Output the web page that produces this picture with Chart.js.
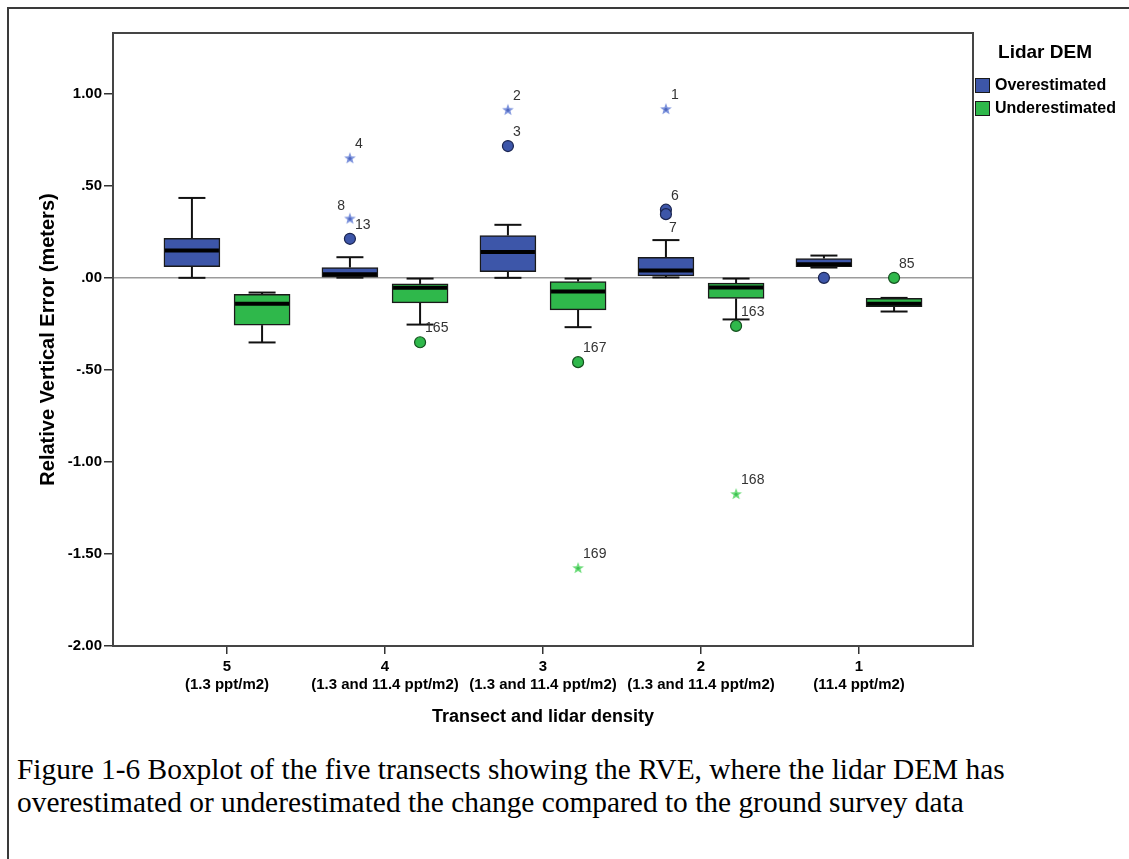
<!DOCTYPE html>
<html>
<head>
<meta charset="utf-8">
<title>Relative Vertical Error by transect</title>
<script src="https://cdn.jsdelivr.net/npm/chart.js@4.4.1/dist/chart.umd.min.js"></script>
<style>
  html, body { margin: 0; padding: 0; background: #fff; }
  body { width: 1129px; height: 859px; position: relative; overflow: hidden; }
  #frame { position: absolute; left: 7px; top: 7px; width: 1140px; height: 870px;
           border-left: 2px solid #3a3a3a; border-top: 2px solid #3a3a3a; }
  #wrap { position: absolute; left: 0; top: 0; width: 1129px; height: 730px; }
  #caption { position: absolute; left: 17px; top: 753px; margin: 0;
             font-family: "Liberation Serif", "Times New Roman", serif;
             font-size: 29.4px; line-height: 33px; color: #000; white-space: nowrap; }
</style>
</head>
<body>
<div id="frame"></div>
<div id="wrap"><canvas id="chart" width="1129" height="730"></canvas></div>
<p id="caption">Figure 1-6 Boxplot of the five transects showing the RVE, where the lidar DEM has<br>overestimated or underestimated the change compared to the ground survey data</p>

<script>
// Transects (x categories) and their lidar densities
const transects = ['5', '4', '3', '2', '1'];
const densities = ['(1.3 ppt/m2)', '(1.3 and 11.4 ppt/m2)', '(1.3 and 11.4 ppt/m2)',
                   '(1.3 and 11.4 ppt/m2)', '(11.4 ppt/m2)'];

// Y axis ticks
const yTickValues = [-2, -1.5, -1, -0.5, 0, 0.5, 1];
const yTickLabels = ['-2.00', '-1.50', '-1.00', '-.50', '.00', '.50', '1.00'];

// Overestimated: five-number summaries per transect
const overLow    = [0.000, 0.001, 0.000, 0.002, 0.056];
const overQ1     = [0.060, 0.004, 0.034, 0.011, 0.060];
const overMedian = [0.149, 0.020, 0.141, 0.040, 0.074];
const overQ3     = [0.214, 0.056, 0.230, 0.112, 0.105];
const overHigh   = [0.434, 0.112, 0.288, 0.205, 0.121];

// Underestimated: five-number summaries per transect
const underLow    = [-0.351, -0.254, -0.268, -0.226, -0.183];
const underQ1     = [-0.257, -0.136, -0.174, -0.112, -0.156];
const underMedian = [-0.141, -0.054, -0.074, -0.053, -0.141];
const underQ3     = [-0.089, -0.033, -0.020, -0.029, -0.112];
const underHigh   = [-0.080, -0.004, -0.004, -0.004, -0.109];

// Outliers ('o' = outlier, '*' = extreme), transect index, value and case label
const overOutGroup = [1, 1, 1, 2, 2, 3, 3, 3, 4];
const overOutValue = [0.212, 0.322, 0.650, 0.716, 0.913, 0.370, 0.346, 0.917, 0.000];
const overOutKind  = ['o', '*', '*', 'o', '*', 'o', 'o', '*', 'o'];
const overOutLabel = ['13', '8', '4', '3', '2', '6', '7', '1', ''];

const underOutGroup = [1, 2, 2, 3, 3, 4];
const underOutValue = [-0.350, -0.458, -1.576, -0.261, -1.174, 0.000];
const underOutKind  = ['o', 'o', '*', 'o', '*', 'o'];
const underOutLabel = ['165', '167', '169', '163', '168', '85'];

// Label placement exceptions (default is up-right of the point)
const labelAnchor = { '8': 'nw', '7': 'se' };

const BLUE = '#3d56a9', GREEN = '#2fb84b';
const SHIFT = 0.222;           // offset of each box from the transect centre, in axis units
const SANS = '"Liberation Sans", Arial, sans-serif';

function makeStar(fill, core) {
  const c = document.createElement('canvas');
  c.width = 14; c.height = 14;
  const g = c.getContext('2d');
  g.beginPath();
  for (let k = 0; k < 10; k++) {
    const r = k % 2 === 0 ? 6.2 : 2.6;
    const a = -Math.PI / 2 + k * Math.PI / 5;
    const px = 7 + r * Math.cos(a), py = 7.3 + r * Math.sin(a);
    k === 0 ? g.moveTo(px, py) : g.lineTo(px, py);
  }
  g.closePath();
  g.fillStyle = fill; g.fill();
  g.beginPath(); g.arc(7, 7.3, 1.6, 0, Math.PI * 2); g.fillStyle = core; g.fill();
  return c;
}
const starBlue = makeStar('#7d93dc', '#4f67bf');
const starGreen = makeStar('#6fdc7c', '#3fc252');

const series = [
  { name: 'Overestimated', color: BLUE, edge: '#1b2550', star: starBlue, shift: -SHIFT,
    low: overLow, q1: overQ1, med: overMedian, q3: overQ3, high: overHigh,
    outG: overOutGroup, outV: overOutValue, outK: overOutKind, outL: overOutLabel },
  { name: 'Underestimated', color: GREEN, edge: '#15501f', star: starGreen, shift: SHIFT,
    low: underLow, q1: underQ1, med: underMedian, q3: underQ3, high: underHigh,
    outG: underOutGroup, outV: underOutValue, outK: underOutKind, outL: underOutLabel }
];

const boxDatasets = series.map(s => ({
  type: 'bar',
  label: s.name,
  data: transects.map((t, i) => ({ x: i + s.shift, y: [s.q1[i], s.q3[i]] })),
  backgroundColor: s.color,
  borderColor: '#1a1a1a',
  borderWidth: 1.5,
  borderSkipped: false,
  barThickness: 56,
  grouped: false,
  order: 2
}));

const outlierDatasets = series.map(s => ({
  type: 'scatter',
  label: s.name + ' outliers',
  data: s.outG.map((g, k) => ({ x: g + s.shift, y: s.outV[k] })),
  pointStyle: ctx => (s.outK[ctx.dataIndex] === '*' ? s.star : 'circle'),
  pointRadius: 5.5,
  pointBackgroundColor: s.color,
  pointBorderColor: s.edge,
  pointBorderWidth: 1.2,
  order: 1
}));

const boxParts = {
  id: 'boxParts',
  beforeDatasetsDraw(chart) {
    const { ctx, chartArea: a, scales: { x, y } } = chart;
    ctx.save();
    // zero reference line
    const y0 = y.getPixelForValue(0);
    ctx.strokeStyle = '#9b9b9b'; ctx.lineWidth = 1.5;
    ctx.beginPath(); ctx.moveTo(a.left, y0); ctx.lineTo(a.right, y0); ctx.stroke();
    // whiskers and caps
    ctx.strokeStyle = '#111'; ctx.lineWidth = 2;
    series.forEach(s => {
      transects.forEach((t, i) => {
        const px = x.getPixelForValue(i + s.shift);
        const pairs = [[s.q3[i], s.high[i]], [s.q1[i], s.low[i]]];
        pairs.forEach(([from, to]) => {
          const pf = y.getPixelForValue(from), pt = y.getPixelForValue(to);
          ctx.beginPath(); ctx.moveTo(px, pf); ctx.lineTo(px, pt); ctx.stroke();
          ctx.beginPath(); ctx.moveTo(px - 13.5, pt); ctx.lineTo(px + 13.5, pt); ctx.stroke();
        });
      });
    });
    ctx.restore();
  },
  afterDatasetsDraw(chart) {
    const { ctx, scales: { x, y } } = chart;
    ctx.save();
    ctx.strokeStyle = '#000'; ctx.lineWidth = 4;
    series.forEach(s => {
      transects.forEach((t, i) => {
        const px = x.getPixelForValue(i + s.shift);
        const pm = y.getPixelForValue(s.med[i]);
        ctx.beginPath(); ctx.moveTo(px - 27, pm); ctx.lineTo(px + 27, pm); ctx.stroke();
      });
    });
    ctx.restore();
  },
  afterDraw(chart) {
    const { ctx, chartArea: a, scales: { x, y } } = chart;
    ctx.save();
    // plot frame
    ctx.strokeStyle = '#454545'; ctx.lineWidth = 2;
    ctx.strokeRect(a.left, a.top, a.right - a.left, a.bottom - a.top);

    // case labels next to outliers
    ctx.fillStyle = '#333';
    ctx.font = '14px ' + SANS;
    ctx.textBaseline = 'middle';
    series.forEach(s => {
      s.outG.forEach((g, k) => {
        const lab = s.outL[k];
        if (!lab) return;
        const px = x.getPixelForValue(g + s.shift);
        const py = y.getPixelForValue(s.outV[k]);
        const side = labelAnchor[lab] || 'ne';
        if (side === 'nw') { ctx.textAlign = 'right'; ctx.fillText(lab, px - 5, py - 12); }
        else if (side === 'se') { ctx.textAlign = 'left'; ctx.fillText(lab, px + 3, py + 14); }
        else { ctx.textAlign = 'left'; ctx.fillText(lab, px + 5, py - 14); }
      });
    });

    // legend
    const lx = a.right + 2;
    ctx.fillStyle = '#000';
    ctx.textAlign = 'center';
    ctx.font = 'bold 19px ' + SANS;
    ctx.fillText('Lidar DEM', 1045, 53);
    ctx.textAlign = 'left';
    ctx.font = 'bold 16px ' + SANS;
    series.forEach((s, k) => {
      const top = 78 + k * 23;
      ctx.fillStyle = s.color;
      ctx.fillRect(lx, top, 15, 15);
      ctx.strokeStyle = '#1a1a1a'; ctx.lineWidth = 1;
      ctx.strokeRect(lx + 0.5, top + 0.5, 14, 14);
      ctx.fillStyle = '#000';
      ctx.fillText(s.name, lx + 20, top + 8);
    });
    ctx.restore();
  }
};

new Chart(document.getElementById('chart'), {
  type: 'bar',
  data: { datasets: [...boxDatasets, ...outlierDatasets] },
  options: {
    responsive: false,
    animation: false,
    events: [],
    layout: { padding: { left: 0, right: 156, top: 33, bottom: 0 } },
    plugins: { legend: { display: false }, tooltip: { enabled: false } },
    scales: {
      x: {
        type: 'linear',
        offset: false,
        min: -0.7215,
        max: 4.7215,
        afterBuildTicks: s => { s.ticks = transects.map((t, i) => ({ value: i })); },
        afterFit: s => { s.height = 84; },
        ticks: {
          autoSkip: false,
          maxRotation: 0,
          padding: 4,
          color: '#000',
          font: { family: SANS, weight: 'bold', size: 15, lineHeight: 1.2 },
          callback: (v, i) => [transects[i], densities[i]]
        },
        grid: { offset: false, drawOnChartArea: false, drawTicks: true, tickLength: 8, color: '#333', lineWidth: 1.5 },
        border: { display: false },
        title: {
          display: true,
          text: 'Transect and lidar density',
          color: '#000',
          font: { family: SANS, weight: 'bold', size: 18, lineHeight: 1.2 },
          padding: { top: 0, bottom: 2 }
        }
      },
      y: {
        type: 'linear',
        min: -2,
        max: 1.33,
        afterBuildTicks: s => { s.ticks = yTickValues.map(v => ({ value: v })); },
        afterFit: s => { s.width = 113; },
        ticks: {
          padding: 2,
          color: '#000',
          font: { family: SANS, weight: 'bold', size: 15 },
          callback: (v, i) => yTickLabels[i]
        },
        grid: { drawOnChartArea: false, drawTicks: true, tickLength: 9, color: '#333', lineWidth: 1.5 },
        border: { display: false },
        title: {
          display: true,
          text: 'Relative Vertical Error (meters)',
          color: '#000',
          font: { family: SANS, weight: 'bold', size: 20, lineHeight: 1.2 },
          padding: { top: 36, bottom: 0 }
        }
      }
    }
  },
  plugins: [boxParts]
});
</script>
</body>
</html>
